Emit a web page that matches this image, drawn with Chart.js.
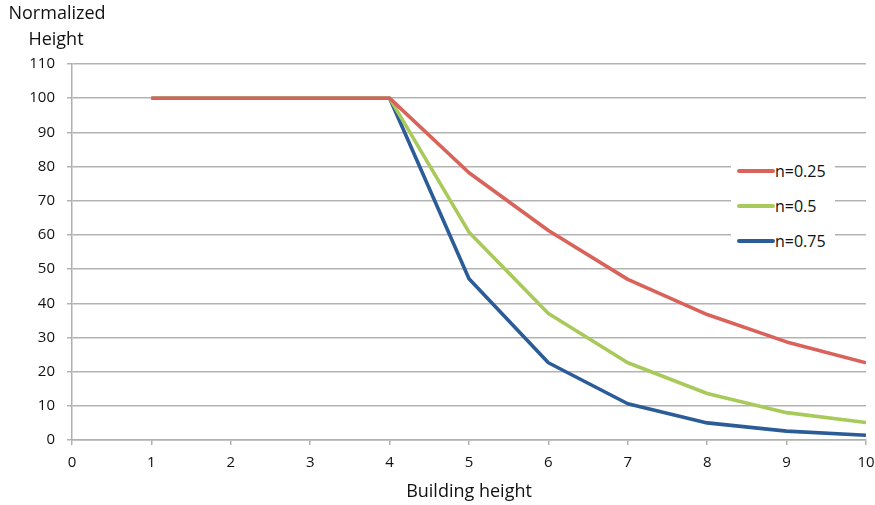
<!DOCTYPE html>
<html>
<head>
<meta charset="utf-8">
<script src="https://cdn.jsdelivr.net/npm/chart.js@4/dist/chart.umd.min.js"></script>
<style>
  html, body { margin: 0; padding: 0; background: #fff; }
  #wrap { position: relative; width: 875px; height: 505px; }
  #legend {
    position: absolute; left: 731px; top: 154px; width: 104px; height: 102px;
    background: #fff; font-family: "Open Sans", sans-serif; font-size: 16px; color: #111;
  }
  .item { position: absolute; left: 6px; height: 20px; display: flex; align-items: center; }
  .swatch { width: 38px; height: 4px; border-radius: 2px; margin-right: 0px; }
</style>
</head>
<body>
<div id="wrap">
  <canvas id="chart" width="875" height="505"></canvas>
  <div id="legend"></div>
</div>
<script>
// Building height (x) and normalized height (y) for three exponents
const buildingHeight = [1, 2, 3, 4, 5, 6, 7, 8, 9, 10];
const seriesNames = ['n=0.25', 'n=0.5', 'n=0.75'];
const n025 = [100, 100, 100, 100, 78.2, 61.3, 47.0, 36.7, 28.7, 22.6];
const n050 = [100, 100, 100, 100, 60.8, 37.0, 22.6, 13.6, 8.0, 5.1];
const n075 = [100, 100, 100, 100, 47.2, 22.6, 10.6, 5.0, 2.6, 1.4];
const seriesColors = ['#d9625a', '#a8ca5b', '#2c5c97'];
const xTicks = [0, 1, 2, 3, 4, 5, 6, 7, 8, 9, 10];
const yTicks = [0, 10, 20, 30, 40, 50, 60, 70, 80, 90, 100, 110];

const FONT = '"Open Sans", sans-serif';
const toPoints = ys => buildingHeight.map((x, i) => ({ x: x, y: ys[i] }));
const allSeries = [n025, n050, n075];

const datasets = allSeries.map((ys, i) => ({
  label: seriesNames[i],
  data: toPoints(ys),
  borderColor: seriesColors[i],
  backgroundColor: seriesColors[i],
  borderWidth: 3.6,
  pointRadius: 0,
  tension: 0,
  borderJoinStyle: 'round',
  borderCapStyle: 'butt'
}));

// Two-line y axis caption in the top-left corner
const yCaption = {
  id: 'yCaption',
  afterDraw(chart) {
    const ctx = chart.ctx;
    ctx.save();
    ctx.fillStyle = '#111';
    ctx.font = '18px ' + FONT;
    ctx.textAlign = 'center';
    ctx.textBaseline = 'middle';
    ctx.fillText('Normalized', 57, 14);
    ctx.fillText('Height', 56, 40);
    ctx.restore();
  }
};

new Chart(document.getElementById('chart'), {
  type: 'line',
  data: { datasets: datasets },
  options: {
    responsive: false,
    animation: false,
    layout: { padding: { top: 64, right: 9, left: 0, bottom: 0 } },
    plugins: { legend: { display: false }, tooltip: { enabled: false } },
    scales: {
      x: {
        type: 'linear',
        min: 0, max: 10,
        afterBuildTicks: s => { s.ticks = xTicks.map(v => ({ value: v })); },
        afterFit: s => { s.height = 65; s.paddingRight = 0; s.paddingLeft = 0; },
        grid: { drawOnChartArea: false, color: '#b0b0b0', lineWidth: 1.5, tickLength: 5 },
        border: { color: '#b0b0b0', width: 1.5 },
        ticks: { color: '#111', font: { family: FONT, size: 15 }, padding: 9, maxRotation: 0 },
        title: { display: true, text: 'Building height', color: '#111', font: { family: FONT, size: 18 }, padding: { top: 4, bottom: 2 } }
      },
      y: {
        min: 0, max: 110,
        afterBuildTicks: s => { s.ticks = yTicks.map(v => ({ value: v })); },
        afterFit: s => { s.width = 72; },
        grid: { color: '#b3b3b3', lineWidth: 1.5, tickLength: 5 },
        border: { color: '#b0b0b0', width: 1.5 },
        ticks: { color: '#111', font: { family: FONT, size: 15 }, padding: 12 }
      }
    }
  },
  plugins: [yCaption]
});

// Legend built from the dataset styles
const legend = document.getElementById('legend');
seriesNames.forEach((name, i) => {
  const item = document.createElement('div');
  item.className = 'item';
  item.style.top = (7 + i * 35) + 'px';
  const sw = document.createElement('span');
  sw.className = 'swatch';
  sw.style.background = seriesColors[i];
  const tx = document.createElement('span');
  tx.textContent = name;
  item.appendChild(sw);
  item.appendChild(tx);
  legend.appendChild(item);
});
</script>
</body>
</html>
